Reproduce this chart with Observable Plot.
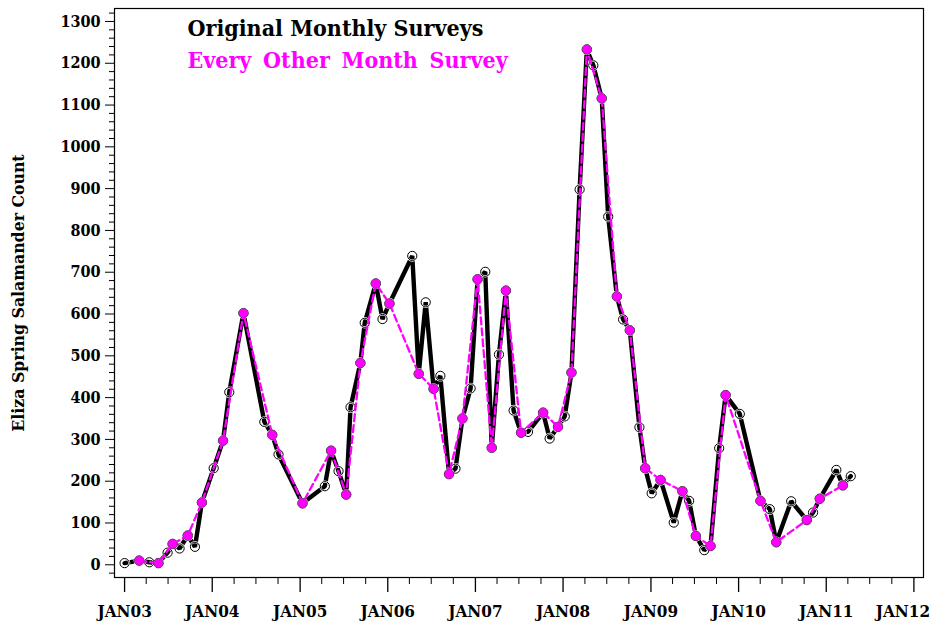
<!DOCTYPE html>
<html>
<head>
<meta charset="utf-8">
<script src="https://cdn.jsdelivr.net/npm/d3@7"></script>
<script src="https://cdn.jsdelivr.net/npm/@observablehq/plot@0.6"></script>
<style>
  html, body { margin: 0; padding: 0; background: #fff; }
  #chart svg { display: block; }
</style>
</head>
<body>
<div id="chart"></div>
<script>
// Survey dates (monthly surveys) and salamander counts
const surveyDates = [
  "2003-01-01","2003-03-03","2003-04-14","2003-05-22","2003-06-29","2003-07-20","2003-08-18","2003-09-21","2003-10-21","2003-11-19",
  "2004-01-07","2004-02-15","2004-03-12","2004-05-10","2004-08-05","2004-09-07","2004-10-03",
  "2005-01-11","2005-04-14","2005-05-10","2005-06-10","2005-07-12","2005-07-30","2005-09-09","2005-09-27","2005-11-12","2005-12-10",
  "2006-01-08","2006-04-13","2006-05-10","2006-06-08","2006-07-11","2006-08-08","2006-09-13","2006-10-10","2006-11-08","2006-12-12",
  "2007-01-10","2007-02-11","2007-03-10","2007-04-09","2007-05-08","2007-06-09","2007-07-10","2007-08-08","2007-10-10","2007-11-06","2007-12-11",
  "2008-01-08","2008-02-05","2008-03-10","2008-04-09","2008-05-06","2008-06-10","2008-07-07","2008-08-12","2008-09-07","2008-10-05","2008-11-14","2008-12-08",
  "2009-01-04","2009-02-10","2009-04-06","2009-05-12","2009-06-09","2009-07-07","2009-08-11","2009-09-06","2009-10-12","2009-11-08",
  "2010-01-06","2010-04-02","2010-05-11","2010-06-07","2010-08-08","2010-10-12","2010-11-07","2010-12-05",
  "2011-02-12","2011-03-11","2011-04-13"
];
const surveyCounts = [
  4, 10, 6, 4, 29, 50, 39, 70, 43, 149,
  231, 297, 413, 602, 342, 311, 264,
  147, 188, 273, 224, 168, 377, 483, 579, 673, 588,
  625, 739, 457, 628, 421, 452, 217, 230, 350, 422,
  683, 701, 280, 503, 656, 369, 316, 318, 364, 302, 330,
  355, 460, 898, 1233, 1195, 1116, 833, 642, 587, 561, 329, 231,
  171, 203, 101, 176, 153, 69, 35, 45, 279, 406,
  361, 153, 133, 54, 152, 107, 125, 158,
  227, 190, 212
];
const yTicks = [0,100,200,300,400,500,600,700,800,900,1000,1100,1200,1300];
const xTickYears = [2003,2004,2005,2006,2007,2008,2009,2010,2011,2012];
const titleLines = ["Original Monthly Surveys", "Every Other Month Survey"];
const yTitle = "Eliza Spring Salamander Count";

const monthly = surveyDates.map((d, i) => ({date: new Date(d + "T00:00:00Z"), count: surveyCounts[i]}));
const everyOther = monthly.filter((d, i) => i % 2 === 1);

const majorX = xTickYears.map(y => new Date(Date.UTC(y, 0, 1)));
const minorX = [];
for (const y of xTickYears) for (const m of [3, 6, 9]) if (y < 2012) minorX.push(new Date(Date.UTC(y, m, 1)));
const minorY = d3.range(-20, 1331, 20).filter(v => v % 100 !== 0);
const fmtX = d => "JAN" + String(d.getUTCFullYear() % 100).padStart(2, "0");

const font = "'DejaVu Serif Condensed', 'DejaVu Serif', serif";

const chart = Plot.plot({
  width: 939,
  height: 630,
  marginLeft: 114,
  marginRight: 16,
  marginTop: 8,
  marginBottom: 53,
  style: {fontFamily: font, background: "#fff", color: "#000", overflow: "visible"},
  x: {type: "utc", domain: [new Date(Date.UTC(2002, 10, 20)), new Date(Date.UTC(2012, 1, 10))]},
  y: {domain: [-30.4, 1331]},
  marks: [
    Plot.frame({stroke: "#000", strokeWidth: 1.2}),
    Plot.axisY({ticks: minorY, tickSize: 5, tickFormat: () => "", label: null, strokeWidth: 1}),
    Plot.axisY({ticks: yTicks, tickSize: 9, tickPadding: 5, tickFormat: d => String(d), label: null,
      fontSize: 16, fontWeight: "bold", strokeWidth: 1}),
    Plot.axisX({ticks: minorX, tickSize: 7, tickFormat: () => "", label: null, strokeWidth: 1}),
    Plot.axisX({ticks: majorX, tickSize: 15, text: null, label: null, strokeWidth: 1.3}),
    Plot.axisX({ticks: majorX.slice(0, -1), tickSize: 0, tickPadding: 27, label: null, fontSize: 17, fontWeight: "bold",
      tickFormat: fmtX}),
    Plot.axisX({ticks: majorX.slice(-1), tickSize: 0, tickPadding: 27, label: null, fontSize: 17, fontWeight: "bold",
      dx: -11, tickFormat: fmtX}),
    Plot.text([yTitle], {frameAnchor: "left", textAnchor: "middle", dx: -96, rotate: -90, fontSize: 17.5, fontWeight: "bold", fill: "#000"}),
    Plot.line(monthly, {x: "date", y: "count", stroke: "#000", strokeWidth: 4.4, strokeLinejoin: "miter"}),
    Plot.dot(monthly, {x: "date", y: "count", r: 4.6, stroke: "#fff", strokeWidth: 2.2, fill: "none"}),
    Plot.dot(monthly, {x: "date", y: "count", r: 4.6, stroke: "#000", strokeWidth: 1, fill: "none"}),
    Plot.line(everyOther, {x: "date", y: "count", stroke: "#ff00ff", strokeWidth: 2.3, strokeDasharray: "7,4"}),
    Plot.dot(everyOther, {x: "date", y: "count", r: 4.8, fill: "#ff00ff", stroke: "#555", strokeWidth: 0.6}),
    Plot.text([titleLines[0]], {frameAnchor: "top-left", dx: 73, dy: 11, textAnchor: "start", lineAnchor: "top",
      fontSize: 23, fontWeight: "bold", fill: "#000"}),
    Plot.text([titleLines[1]], {frameAnchor: "top-left", dx: 73, dy: 43, textAnchor: "start", lineAnchor: "top",
      fontSize: 23, fontWeight: "bold", fill: "#ff00ff"})
  ]
});
d3.select(chart).selectAll("text")
  .filter(function() { return this.textContent === titleLines[1]; })
  .style("word-spacing", "4.5px");
document.getElementById("chart").appendChild(chart);
</script>
</body>
</html>
